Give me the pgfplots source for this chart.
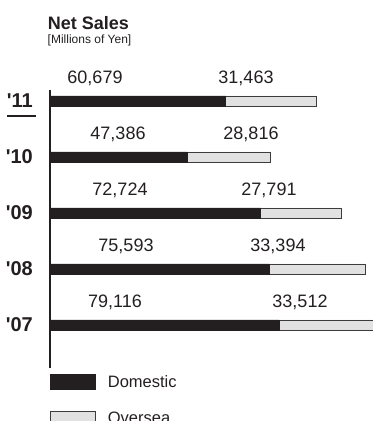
\documentclass[border=0pt]{standalone}
\usepackage{fontspec}
\setmainfont{Liberation Sans}
\usepackage{pgfplots}
\usepackage{pgfplotstable}
\pgfplotsset{compat=1.18}
\definecolor{dom}{HTML}{231F20}
\definecolor{ovs}{HTML}{E1E1E1}
\definecolor{edge}{HTML}{3C3C3C}

\pgfplotstableread{
y dom ovs
0 79116 33512
1 75593 33394
2 72724 27791
3 47386 28816
4 60679 31463
}\sales

\newcommand\numfont{\fontsize{18bp}{20bp}\selectfont}

\begin{document}
\begin{tikzpicture}
\useasboundingbox (0,0) rectangle (373bp,-421bp);
\clip (0,0) rectangle (373bp,-421bp);
\begin{axis}[
  scale only axis, width=323bp, height=278bp,
  anchor=south west, at={(50bp,-368bp)},
  xbar stacked, bar width=10bp,
  xmin=0, xmax=111533,
  ymin=-0.768, ymax=4.196,
  clip mode=individual,
  axis x line=none,
  axis y line*=left,
  axis line style={-},
  y axis line style={line width=2bp, color=dom},
  ytick={0,1,2,3,4},
  yticklabels={\textquotesingle07,\textquotesingle08,\textquotesingle09,\textquotesingle10,\textquotesingle11},
  major tick length=0,
  yticklabel style={font=\fontsize{20bp}{22bp}\selectfont\bfseries, text=dom, inner sep=0, anchor=east, xshift=-17bp},
  legend style={at={(0,0)}, anchor=north west, yshift=-6bp, draw=none, fill=none,
    inner sep=0, outer sep=0, row sep=21bp,
    font=\fontsize{16.5bp}{18bp}\selectfont, text=dom,
    nodes={inner sep=0},
    /tikz/every odd column/.append style={column sep=12bp}},
  legend cell align=left,
  legend image code/.code={\draw[#1] (0bp,-7.5bp) rectangle (45bp,7.5bp);},
]
\addplot[fill=dom, draw=dom, line width=0.6bp] table[x=dom, y=y] {\sales};
\addplot[fill=ovs, draw=edge, line width=0.9bp] table[x=ovs, y=y] {\sales};
\legend{Domestic, Oversea}

\node[font=\numfont, text=dom, anchor=base, yshift=17bp] at (axis cs:15539,4) {60,679};
\node[font=\numfont, text=dom, anchor=base, yshift=17bp] at (axis cs:67680,4) {31,463};
\node[font=\numfont, text=dom, anchor=base, yshift=17bp] at (axis cs:23481,3) {47,386};
\node[font=\numfont, text=dom, anchor=base, yshift=17bp] at (axis cs:69406,3) {28,816};
\node[font=\numfont, text=dom, anchor=base, yshift=17bp] at (axis cs:24171,2) {72,724};
\node[font=\numfont, text=dom, anchor=base, yshift=17bp] at (axis cs:75622,2) {27,791};
\node[font=\numfont, text=dom, anchor=base, yshift=17bp] at (axis cs:26243,1) {75,593};
\node[font=\numfont, text=dom, anchor=base, yshift=17bp] at (axis cs:78729,1) {33,394};
\node[font=\numfont, text=dom, anchor=base, yshift=17bp] at (axis cs:22445,0) {79,116};
\node[font=\numfont, text=dom, anchor=base, yshift=17bp] at (axis cs:86326,0) {33,512};
\end{axis}
\node[anchor=base west, inner sep=0, text=dom, font=\fontsize{18bp}{20bp}\selectfont\bfseries] at (47.7bp,-29.3bp) {Net Sales};
\node[anchor=base west, inner sep=0, text=dom, font=\fontsize{12bp}{14bp}\selectfont] at (47.5bp,-43bp) {[Millions of Yen]};
\draw[line width=1.8bp, color=dom] (7bp,-116bp) -- (36bp,-116bp);
\end{tikzpicture}
\end{document}
